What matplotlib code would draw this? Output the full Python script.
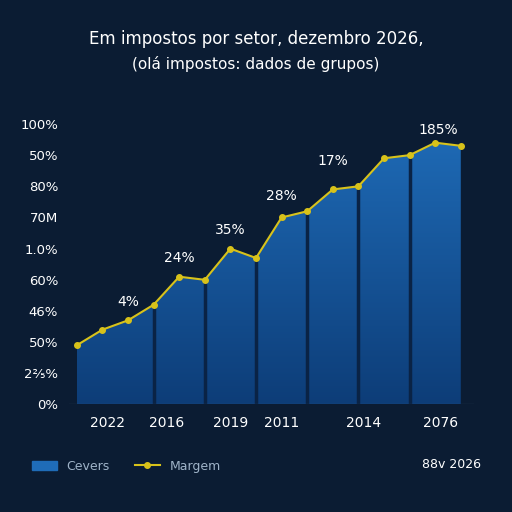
import matplotlib
matplotlib.use("Agg")
import matplotlib.pyplot as plt
import numpy as np
from matplotlib.lines import Line2D
from matplotlib.patches import Patch

xs = [0, 1, 2, 3, 4, 5, 6, 7, 8, 9, 10, 11, 12, 13, 14, 15]
vals = [1.9, 2.4, 2.7, 3.2, 4.1, 4.0, 5.0, 4.7, 6.0, 6.2, 6.9, 7.0, 7.9, 8.0, 8.4, 8.3]
dividers = [3, 5, 7, 9, 11, 13]
ytick_labels = ['0%', '2⅖%', '50%', '46%', '60%', '1.0%', '70M', '80%', '50%', '100%']
xtick_pos = [1.2, 3.5, 6.0, 8.0, 11.2, 14.2]
xtick_labels = ['2022', '2016', '2019', '2011', '2014', '2076']
ann_pos = [2, 4, 6, 8, 10, 14.1]
ann_vals = [3.3, 4.7, 5.6, 6.7, 7.8, 8.8]
ann_labels = ['4%', '24%', '35%', '28%', '17%', '185%']

bg = '#0b1c33'
fig = plt.figure(figsize=(5.12, 5.12), dpi=100, facecolor=bg)
ax = fig.add_axes([0.135, 0.21, 0.79, 0.56], facecolor=bg)

# gradient fill under line
grad = np.linspace(0, 1, 256).reshape(-1, 1)
im = ax.imshow(grad, extent=[xs[0], xs[-1], 0, 9], origin='lower', aspect='auto',
               cmap=matplotlib.colors.LinearSegmentedColormap.from_list('b', ['#0d3d78', '#1f6cb8']), zorder=1)
poly = ax.fill_between(xs, vals, 0, color='none')
im.set_clip_path(poly.get_paths()[0], transform=ax.transData)
for d in dividers:
    ax.plot([d, d], [0, vals[d]], color='#0a2345', lw=2.5, zorder=2)
ax.plot(xs, vals, color='#d8c21a', lw=1.5, marker='o', ms=4, zorder=3)
for x, y, t in zip(ann_pos, ann_vals, ann_labels):
    ax.text(x, y, t, color='white', ha='center', va='center', fontsize=10)

ax.set_xlim(-0.3, 15.5)
ax.set_ylim(0, 9.2)
ax.set_yticks(range(10))
ax.set_yticklabels(ytick_labels, color='white', fontsize=9.5)
ax.set_xticks(xtick_pos)
ax.set_xticklabels(xtick_labels, color='white', fontsize=10)
ax.tick_params(length=0, pad=8)
for s in ax.spines.values():
    s.set_visible(False)
ax.axhline(0, color='#4a6a8a', lw=0.8)

fig.text(0.5, 0.915, 'Em impostos por setor, dezembro 2026,', color='white', ha='center', fontsize=12)
fig.text(0.5, 0.865, '(olá impostos: dados de grupos)', color='white', ha='center', fontsize=11)

handles = [Patch(color='#1f6cb8'), Line2D([0], [0], color='#d8c21a', marker='o', ms=4)]
fig.legend(handles, ['Cevers', 'Margem'], loc='lower left', bbox_to_anchor=(0.04, 0.055), ncol=2,
           frameon=False, labelcolor='#9fb3c8', fontsize=9)
fig.text(0.94, 0.085, '88v 2026', color='white', ha='right', fontsize=9)
fig.savefig('out.png', dpi=100, facecolor=bg)
